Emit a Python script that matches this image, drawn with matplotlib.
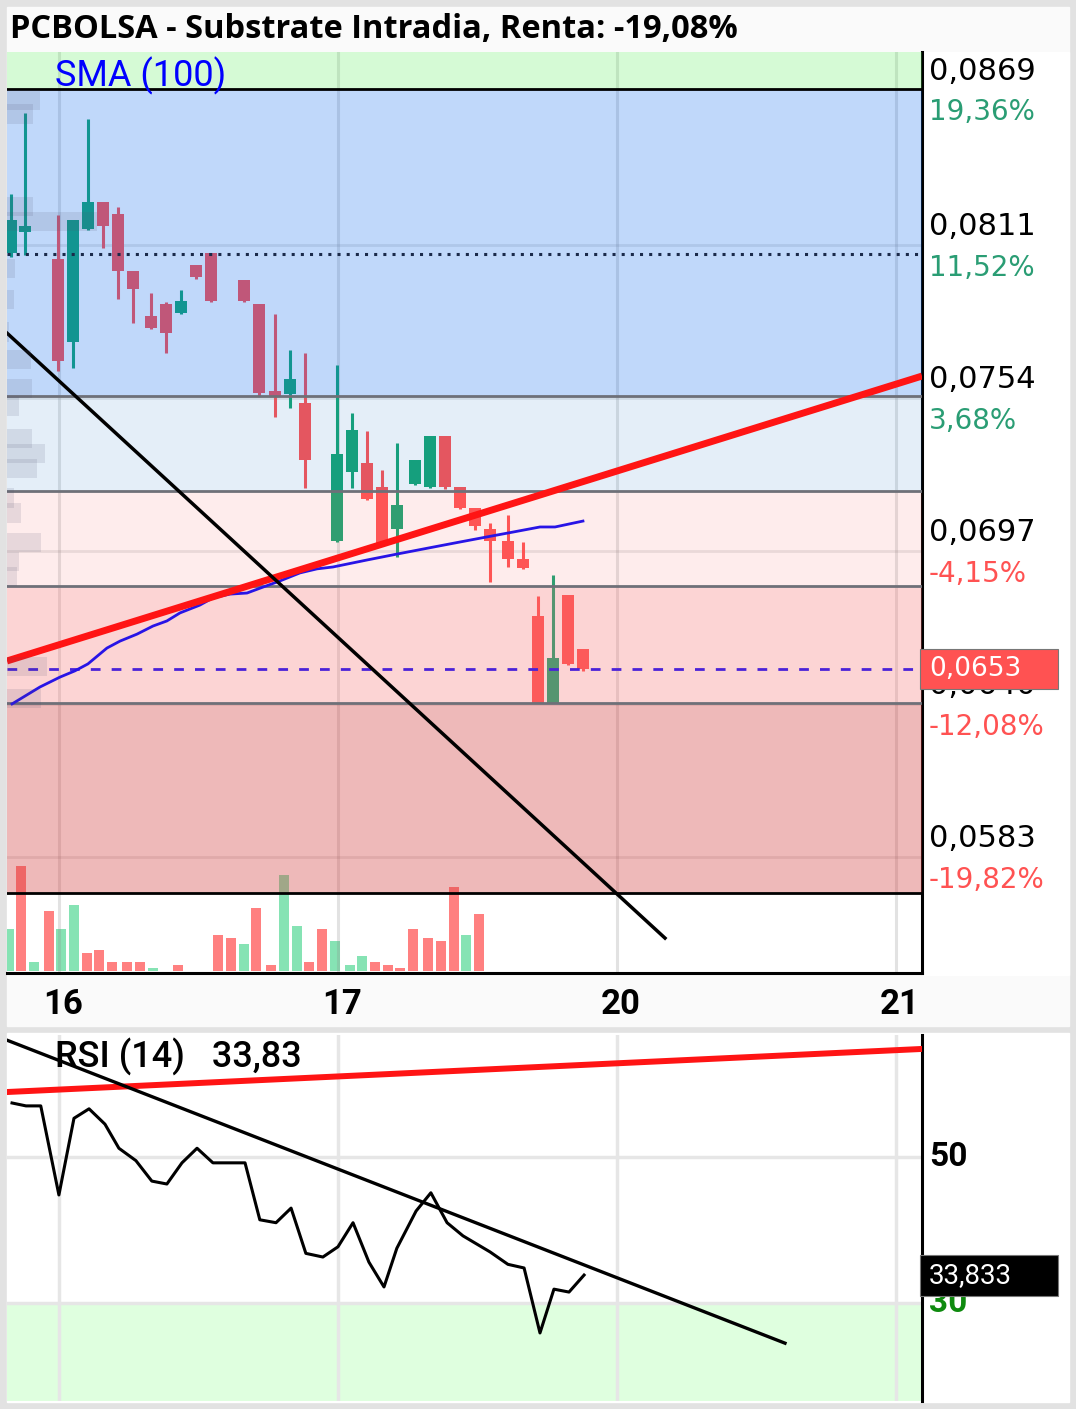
import numpy as np
import matplotlib.pyplot as plt
import matplotlib.transforms as mtransforms
from matplotlib.patches import Rectangle

# ---- data ----
# candle time: days from the "16" session line
t_c = [-0.172, -0.122, -0.004, 0.050, 0.104, 0.158, 0.211, 0.265, 0.330, 0.384,
       0.437, 0.491, 0.545, 0.663, 0.717, 0.774, 0.828, 0.882, 0.996, 1.050,
       1.104, 1.158, 1.211, 1.276, 1.330, 1.384, 1.437, 1.491, 1.545, 1.609,
       1.663, 1.717, 1.771, 1.824, 1.878]
o = [0.08079, 0.08158, 0.08057, 0.07748, 0.08169, 0.08269, 0.08225, 0.08012, 0.07845, 0.07889,
     0.07856, 0.08035, 0.08079, 0.07979, 0.07889, 0.07565, 0.07554, 0.07521, 0.07007, 0.07264,
     0.07297, 0.07208, 0.07051, 0.07219, 0.07208, 0.07398, 0.07208, 0.07130, 0.07051, 0.07007,
     0.06940, 0.06728, 0.06404, 0.06806, 0.06605]
h = [0.08299, 0.08601, 0.08221, 0.08202, 0.08578, 0.08269, 0.08251, 0.08012, 0.07930, 0.07897,
     0.07942, 0.08035, 0.08079, 0.07979, 0.07889, 0.07852, 0.07718, 0.07707, 0.07662, 0.07483,
     0.07416, 0.07271, 0.07372, 0.07308, 0.07398, 0.07398, 0.07208, 0.07130, 0.07074, 0.07104,
     0.07003, 0.06802, 0.06880, 0.06806, 0.06605]
l = [0.08064, 0.08072, 0.07640, 0.07651, 0.08165, 0.08098, 0.07908, 0.07819, 0.07796, 0.07707,
     0.07852, 0.07982, 0.07897, 0.07897, 0.07547, 0.07469, 0.07502, 0.07204, 0.07003, 0.07204,
     0.07159, 0.06999, 0.06947, 0.07215, 0.07204, 0.07200, 0.07126, 0.07048, 0.06854, 0.06910,
     0.06903, 0.06404, 0.06404, 0.06545, 0.06523]
c = [0.08202, 0.08180, 0.07677, 0.08202, 0.08269, 0.08180, 0.08012, 0.07945, 0.07800, 0.07781,
     0.07901, 0.07990, 0.07901, 0.07901, 0.07558, 0.07543, 0.07610, 0.07308, 0.07331, 0.07420,
     0.07163, 0.06999, 0.07141, 0.07308, 0.07398, 0.07208, 0.07130, 0.07063, 0.07007, 0.06940,
     0.06906, 0.06404, 0.06571, 0.06549, 0.06530]

# volume (own time stamps as drawn)
t_v = [-0.179, -0.136, -0.090, -0.036, 0.007, 0.054, 0.100, 0.143, 0.190, 0.244,
       0.290, 0.337, 0.427, 0.570, 0.616, 0.663, 0.706, 0.760, 0.806, 0.853,
       0.896, 0.943, 0.989, 1.043, 1.086, 1.133, 1.179, 1.222, 1.269, 1.323,
       1.369, 1.416, 1.459, 1.505]
vol = [42, 105, 9, 60, 42, 66, 18, 21, 9, 9, 9, 3, 6, 36, 33, 27, 63, 6, 96, 45,
       9, 42, 30, 6, 15, 9, 6, 3, 42, 33, 30, 84, 36, 57]
vol_up = "grgrggrrrrrgrrrgrrggrrgggrrrrrrrgr"

# SMA(100)
t_sma = [-0.168, -0.068, 0.004, 0.057, 0.104, 0.172, 0.219, 0.280, 0.337, 0.387,
         0.434, 0.505, 0.552, 0.613, 0.674, 0.731, 0.792, 0.864, 0.925, 0.982,
         1.104, 1.211, 1.341, 1.437, 1.534, 1.627, 1.724, 1.778, 1.878]
sma = [0.06400, 0.06463, 0.06500, 0.06523, 0.06549, 0.06608, 0.06634, 0.06660, 0.06690, 0.06709,
       0.06739, 0.06768, 0.06795, 0.06809, 0.06813, 0.06835, 0.06858, 0.06888, 0.06903, 0.06910,
       0.06936, 0.06958, 0.06984, 0.07003, 0.07022, 0.07040, 0.07059, 0.07059, 0.07081]

# volume profile (price level, volume)
vp_price = [0.08649, 0.08597, 0.08251, 0.08195, 0.08023, 0.07906, 0.07785, 0.07683, 0.07573, 0.07506,
            0.07390, 0.07333, 0.07277, 0.07167, 0.07111, 0.07000, 0.06930, 0.06876, 0.06541, 0.06420]
vp_vol = [33, 26, 26, 90, 8, 7, 2, 24, 25, 12, 25, 38, 30, 7, 14, 34, 12, 10, 40, 34]

# fibonacci retracement
fib_high, fib_low = 0.0869, 0.05696
fib_ratios = [0, 0.382, 0.5, 0.618, 0.764, 1]
prev_close = 0.08076
last_price = 0.0653

# trend lines (t, price)
red_line = [(-0.186, 0.06560), (3.093, 0.07621)]
black_line = [(-0.186, 0.07781), (2.172, 0.05528)]

# price axis
price_ticks = [0.0869, 0.0811, 0.0754, 0.0697, 0.0640, 0.0583]
pct_labels = ["19,36%", "11,52%", "3,68%", "-4,15%", "-12,08%", "-19,82%"]

# RSI(14)
t_rsi = [-0.168, -0.118, -0.065, 0.000, 0.054, 0.108, 0.165, 0.215, 0.276, 0.333,
         0.387, 0.441, 0.495, 0.552, 0.667, 0.720, 0.778, 0.832, 0.885, 0.946,
         1.000, 1.054, 1.111, 1.165, 1.211, 1.280, 1.333, 1.391, 1.448, 1.545,
         1.609, 1.667, 1.724, 1.774, 1.828, 1.882]
rsi = [57.4, 57.0, 57.0, 44.8, 55.3, 56.6, 54.5, 51.2, 49.5, 46.7,
       46.3, 49.2, 51.2, 49.2, 49.2, 41.4, 41.0, 43.0, 36.8, 36.3,
       37.7, 41.0, 35.6, 32.2, 37.5, 42.6, 45.1, 41.0, 39.2, 37.0,
       35.3, 34.8, 25.9, 31.9, 31.5, 33.83]
rsi_red = [(-0.186, 58.9), (3.093, 64.8)]
rsi_black = [(-0.186, 66.0), (2.602, 24.5)]

day_ticks = [0, 1, 2, 3]
day_labels = ["16", "17", "20", "21"]

# ---- figure ----
W, H = 1076, 1409
fig = plt.figure(figsize=(W / 100, H / 100), dpi=100, facecolor="#e2e2e2")

def box(x0, y0, x1, y1, color):
    fig.add_artist(Rectangle((x0 / W, 1 - y1 / H), (x1 - x0) / W, (y1 - y0) / H,
                             transform=fig.transFigure, color=color, zorder=0))

box(7, 7, 1069, 1026, "#fafafa")
box(922, 52, 1069, 975, "white")
box(7, 1033, 1069, 1402, "white")

fig.text(10 / W, 1 - 29 / H, "PCBOLSA - Substrate Intradia, Renta: -19,08%",
         fontsize=23.5, fontweight="bold", family="Open Sans", va="center")

XL = (-0.186, 3.093)
ax = fig.add_axes([7 / W, 1 - 973 / H, 915 / W, 921 / H])
axv = ax.twinx()
ax.set_zorder(2)
axv.set_zorder(1)
ax.patch.set_visible(False)
axv.patch.set_visible(True)
axv.patch.set_facecolor("white")
ax.set_xlim(*XL)
ax.set_ylim(0.05398, 0.088278)

# volume
axv.bar(t_v, vol, width=0.036, bottom=0,
        color=["#86e3b4" if u == "g" else "#ff8080" for u in vol_up], zorder=1)
axv.set_ylim(-2, 919)
axv.set_yticks([])
for s in axv.spines.values():
    s.set_visible(False)

# grid
for d in day_ticks:
    ax.axvline(d, color="#8c8c8c", alpha=0.25, lw=2.2, zorder=0.5)
for p in price_ticks[1:]:
    ax.axhline(p, color="#8c8c8c", alpha=0.2, lw=2, zorder=0.5)

# candles
up_col, dn_col = "#14a572", "#ff5252"
for ti, oi, hi, li, ci in zip(t_c, o, h, l, c):
    col = up_col if ci >= oi else dn_col
    ax.vlines(ti, li, hi, color=col, lw=2.2, zorder=2)
    ax.bar(ti, abs(ci - oi), bottom=min(oi, ci), width=0.043, color=col, zorder=2)

# fib bands (drawn over candles, translucent)
levels = [fib_high - r * (fib_high - fib_low) for r in fib_ratios]
ax.axhspan(levels[0], 1, color="#58ec58", alpha=0.25, lw=0, zorder=3)
band_cols = [("#0d69ec", 0.26), ("#217acd", 0.12), ("#f86e6e", 0.124),
             ("#f86e6e", 0.29), ("#d13737", 0.35)]
for (top, bot), (bc, ba) in zip(zip(levels[:-1], levels[1:]), band_cols):
    ax.axhspan(bot, top, color=bc, alpha=ba, lw=0, zorder=3)
for i, lv in enumerate(levels):
    edge = i in (0, len(levels) - 1)
    ax.axhline(lv, color="black" if edge else "#6e7078", lw=2.0, zorder=4)

ax.axhline(prev_close, color="#1b2a4a", lw=2.2, dashes=(1, 2), zorder=4)
ax.axhline(last_price, color="#4a22d8", lw=2.0, dashes=(3.5, 4), zorder=4)
ax.plot(t_sma, sma, color="#2814e6", lw=2.0, zorder=5)
ax.plot(*zip(*red_line), color="#ff1414", lw=5, zorder=5, solid_capstyle="butt")
ax.plot(*zip(*black_line), color="black", lw=2.5, zorder=5)

# volume profile
axp = ax.twiny()
axp.set_zorder(3)
axp.patch.set_visible(False)
axp.barh(vp_price, vp_vol, height=0.00071, left=0, color="#50506e", alpha=0.13)
axp.set_xlim(0, 915)
axp.set_xticks([])
for s in axp.spines.values():
    s.set_visible(False)

for s in ["top", "left"]:
    ax.spines[s].set_visible(False)
for s in ["right", "bottom"]:
    ax.spines[s].set_linewidth(2.2)
ax.set_yticks([])
ax.set_xticks(day_ticks, day_labels, fontsize=25, fontweight="bold", family="Roboto")
ax.tick_params(axis="x", length=0, pad=11)
for lab in ax.get_xticklabels():
    lab.set_transform(lab.get_transform() + mtransforms.Affine2D().translate(4, 0))

blend = mtransforms.blended_transform_factory(ax.transAxes, ax.transData)
for p, pl in zip(price_ticks, pct_labels):
    ax.text(1, p, f"{p:.4f}".replace(".", ","), fontsize=22, family="DejaVu Sans",
            va="center", ha="left", clip_on=False,
            transform=mtransforms.offset_copy(blend, fig=fig, x=7, y=18, units="dots"))
    ax.text(1, p, pl, fontsize=20, family="DejaVu Sans", va="center", ha="left",
            color="#ff5252" if pl.startswith("-") else "#2a9d74", clip_on=False,
            transform=mtransforms.offset_copy(blend, fig=fig, x=7, y=-23, units="dots"))

fig.text(55 / W, 1 - 76 / H, "SMA (100)", color="#0000ff", fontsize=26,
         family="Roboto", va="center")


def tag(axis, y, txt, fc, tc, fam, size, hpx):
    ppu = axis.get_window_extent().height / np.diff(axis.get_ylim())[0]
    tr = mtransforms.blended_transform_factory(fig.transFigure, axis.transData)
    axis.add_patch(Rectangle((920 / W, y - hpx / 2 / ppu), 138 / W, hpx / ppu,
                             transform=tr, facecolor=fc, edgecolor="#777777",
                             lw=0.8, clip_on=False, zorder=10))
    axis.text(929 / W, y, txt, transform=tr, color=tc, fontsize=size, family=fam,
              va="center", ha="left", clip_on=False, zorder=11)


tag(ax, last_price, "0,0653", "#ff5252", "white", "DejaVu Sans", 19, 40)

# ---- RSI ----
ar = fig.add_axes([7 / W, 1 - 1401 / H, 915 / W, 366 / H])
ar.set_xlim(*XL)
ar.set_ylim(16.58, 66.71)
ar.axhspan(16.58, 30, color="#dfffdf", lw=0, zorder=0)
for d in day_ticks:
    ar.axvline(d, color="#e6e6e6", lw=2.5, zorder=1)
for v in (50, 30):
    ar.axhline(v, color="#e6e6e6", lw=2.5, zorder=1)
ar.plot(t_rsi, rsi, color="black", lw=2.2, zorder=3)
ar.plot(*zip(*rsi_red), color="#ff1414", lw=4.3, zorder=3)
ar.plot(*zip(*rsi_black), color="black", lw=2.4, zorder=3)
for s in ["top", "left", "bottom"]:
    ar.spines[s].set_visible(False)
ar.spines["right"].set_linewidth(2.2)
ar.set_xticks([])
ar.set_yticks([])
rblend = mtransforms.blended_transform_factory(ar.transAxes, ar.transData)
ar.text(1, 50, "50", transform=mtransforms.offset_copy(rblend, fig=fig, x=7, y=0, units="dots"),
        fontsize=24, fontweight="bold", family="Roboto", va="center", clip_on=False)
ar.text(1, 30, "30", transform=mtransforms.offset_copy(rblend, fig=fig, x=7, y=0, units="dots"),
        fontsize=24, fontweight="bold", family="Roboto", va="center", color="#0f8a0f",
        clip_on=False)
tag(ar, rsi[-1], "33,833", "black", "white", "Roboto", 20, 41)
fig.text(55 / W, 1 - 1057 / H, "RSI (14)   33,83", fontsize=26, fontweight="medium",
         family="Roboto", va="center")

fig.savefig("out.png", dpi=100, facecolor=fig.get_facecolor())
